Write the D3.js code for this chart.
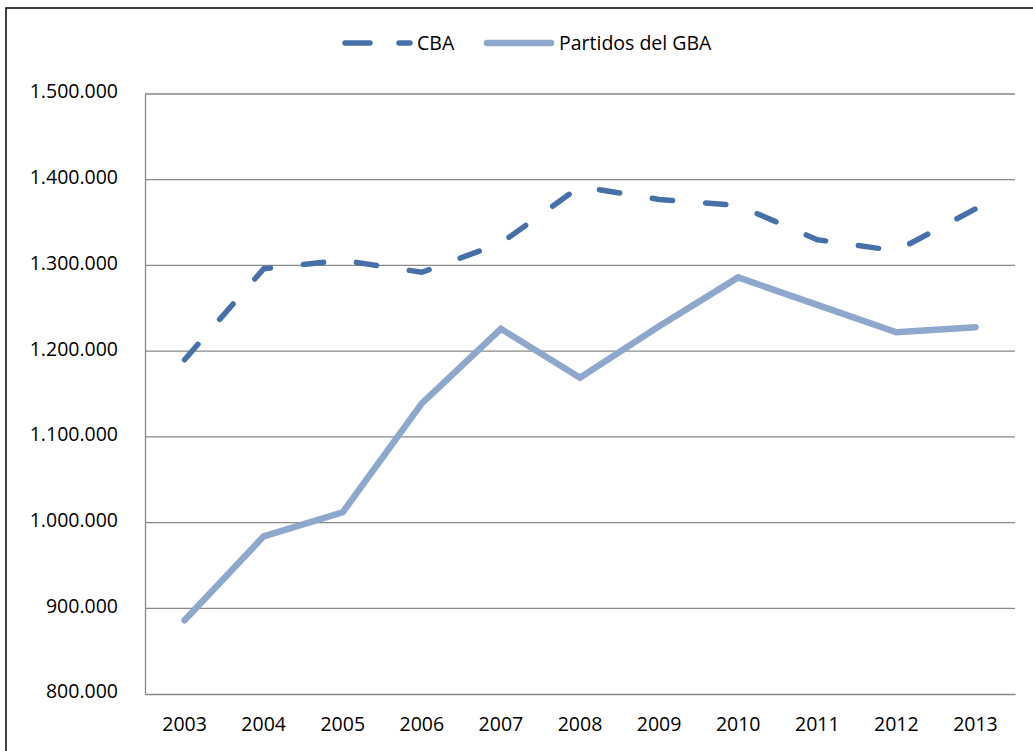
<!DOCTYPE html>
<html><head><meta charset="utf-8">
<script src="https://cdn.jsdelivr.net/npm/d3@7"></script>
<style>body{margin:0;background:#fff}svg{display:block}text{font-family:"Open Sans","Liberation Sans",sans-serif;fill:#000}</style>
</head><body><svg id="c" width="1033" height="751"></svg>
<script>
const years = ["2003","2004","2005","2006","2007","2008","2009","2010","2011","2012","2013"];
const cba = [1190000,1296000,1306000,1292000,1326000,1392000,1377000,1370000,1330000,1317000,1366000];
const gba = [886000,984000,1012000,1139000,1226000,1169000,1229000,1286000,1254000,1222000,1228000];
const yTicks = [800000,900000,1000000,1100000,1200000,1300000,1400000,1500000];
const seriesNames = ["CBA","Partidos del GBA"];

const svg = d3.select("#c");
const L=145,R=1015,T=94,B=694;
const x = d3.scaleBand().domain(years).range([L,R]);
const y = d3.scaleLinear().domain([800000,1500000]).range([B,T]);
const fmt = v => d3.format(",")(v).replace(/,/g,".");

svg.append("path").attr("d","M6,760V8H1040").attr("fill","none").attr("stroke","#000").attr("stroke-width",1.5);

svg.append("g").selectAll("line").data(yTicks.slice(1)).join("line")
  .attr("x1",L).attr("x2",R).attr("y1",d=>y(d)).attr("y2",d=>y(d))
  .attr("stroke","#898989").attr("stroke-width",1.3);

const ya = svg.append("g").attr("transform",`translate(${L},0)`)
  .call(d3.axisLeft(y).tickValues(yTicks).tickFormat(fmt).tickSize(0).tickPadding(27));
ya.select(".domain").attr("stroke","#898989").attr("stroke-width",1.3);
ya.selectAll("text").attr("font-size","19.5px").attr("font-family",'"Open Sans",sans-serif').attr("dy","0.2em");

const xa = svg.append("g").attr("transform",`translate(0,${B})`)
  .call(d3.axisBottom(x).tickSize(0).tickPadding(23));
xa.select(".domain").attr("stroke","#898989").attr("stroke-width",1.3);
xa.selectAll("text").attr("font-size","19.5px").attr("font-family",'"Open Sans",sans-serif');

const cx = d => x(d)+x.bandwidth()/2;
const line = d3.line().x((d,i)=>cx(years[i])).y(d=>y(d));

svg.append("path").datum(gba).attr("d",line).attr("fill","none")
  .attr("stroke","#8ea8cd").attr("stroke-width",6.5).attr("stroke-linejoin","miter").attr("stroke-linecap","round");
const cp = svg.append("path").datum(cba).attr("d",line).attr("fill","none")
  .attr("stroke","#4571a8").attr("stroke-width",5.5).attr("stroke-linecap","round").attr("stroke-linejoin","round");
// fit the long-dash pattern so the line ends on a dash, as in the reference
const len = cp.node().getTotalLength();
const n = Math.round((len-21)/55);
const per = (len-21)/n;
cp.attr("stroke-dasharray",`${21*per/55},${34*per/55}`);

const lg = svg.append("g");
lg.append("line").attr("x1",345).attr("x2",370).attr("y1",43).attr("y2",43)
  .attr("stroke","#4571a8").attr("stroke-width",5.5).attr("stroke-linecap","round");
lg.append("line").attr("x1",399).attr("x2",410).attr("y1",43).attr("y2",43)
  .attr("stroke","#4571a8").attr("stroke-width",5.5).attr("stroke-linecap","round");
lg.append("text").attr("x",417).attr("y",43).attr("dy","0.35em").attr("font-size","19.5px").text(seriesNames[0]);
lg.append("line").attr("x1",487).attr("x2",551).attr("y1",43).attr("y2",43)
  .attr("stroke","#8ea8cd").attr("stroke-width",6.5).attr("stroke-linecap","round");
lg.append("text").attr("x",559).attr("y",43).attr("dy","0.35em").attr("font-size","19.5px").text(seriesNames[1]);
</script></body></html>
